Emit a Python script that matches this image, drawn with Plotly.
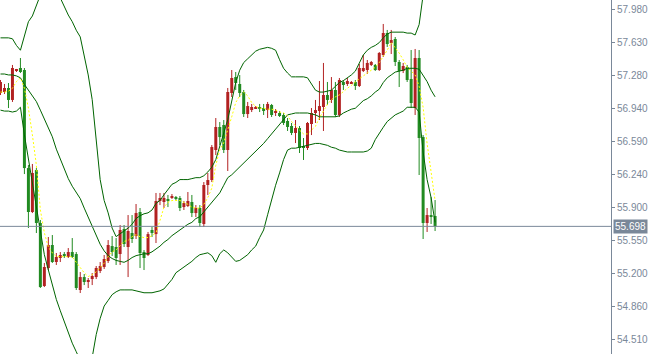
import plotly.graph_objects as go

opens = [57.100,57.111,57.153,57.027,57.332,57.363,57.342,56.311,55.849,56.290,
55.733,55.071,55.260,55.502,55.323,55.365,55.407,55.376,55.428,55.407,
55.029,55.165,55.113,55.144,55.165,55.229,55.271,55.334,55.491,55.481,
55.407,55.670,55.481,55.628,55.596,55.849,55.428,55.397,55.660,55.617,
55.965,55.954,55.986,55.996,55.996,55.996,55.901,55.912,55.954,55.838,
55.891,55.723,56.133,56.185,56.501,56.743,56.764,56.501,57.100,57.268,
57.195,57.111,56.879,56.921,56.942,56.953,56.942,56.921,56.974,56.890,
56.890,56.869,56.806,56.753,56.680,56.732,56.532,56.522,56.774,56.890,
56.911,56.953,57.079,57.027,57.132,56.869,57.216,57.195,57.205,57.216,
57.174,57.332,57.342,57.395,57.395,57.342,57.500,57.731,57.626,57.668,
57.426,57.332,57.374,57.247,56.942,57.468,56.637,55.733,55.817,55.807]

highs = [57.237,57.195,57.205,57.395,57.353,57.468,57.363,56.343,56.354,56.311,
55.765,55.313,55.586,55.607,55.418,55.428,55.428,55.470,55.575,55.428,
55.218,55.197,55.155,55.207,55.281,55.323,55.397,55.554,55.596,55.575,
55.712,55.712,55.817,55.817,55.933,55.891,55.449,55.639,55.691,56.049,
56.049,56.049,56.028,56.038,56.017,56.017,55.965,56.059,56.028,55.922,
55.922,56.164,56.259,56.553,56.837,56.795,56.816,57.153,57.342,57.321,
57.289,57.132,57.006,56.985,56.963,56.985,56.985,57.006,56.985,56.932,
56.911,56.890,56.837,56.785,56.816,56.753,56.627,56.795,56.942,57.027,
57.226,57.416,57.216,57.268,57.216,57.258,57.237,57.258,57.226,57.237,
57.405,57.500,57.447,57.437,57.405,57.531,57.826,57.763,57.763,57.689,
57.447,57.416,57.395,57.552,57.563,57.552,56.658,55.891,56.007,55.975]

lows = [57.079,57.090,56.942,57.006,57.321,57.310,56.248,55.681,55.838,55.628,
55.050,55.060,55.239,55.313,55.292,55.323,55.365,55.365,55.365,55.029,
54.997,55.081,55.050,55.081,55.144,55.207,55.250,55.313,55.386,55.292,
55.292,55.481,55.165,55.523,55.565,55.260,55.239,55.386,55.586,55.523,
55.922,55.891,55.901,55.986,55.975,55.859,55.870,55.901,55.796,55.796,
55.691,55.691,56.028,56.164,56.448,56.553,56.469,56.280,57.058,57.132,
57.058,56.848,56.837,56.900,56.932,56.900,56.869,56.837,56.848,56.858,
56.848,56.764,56.701,56.658,56.574,56.469,56.396,56.501,56.658,56.785,
56.816,56.701,56.974,56.995,56.848,56.848,57.132,57.174,57.195,57.132,
57.163,57.321,57.300,57.384,57.332,57.332,57.479,57.584,57.510,57.384,
57.163,57.310,57.216,56.942,56.869,56.238,55.565,55.639,55.723,55.649]

closes = [57.216,57.153,57.027,57.363,57.342,57.321,56.311,55.849,56.259,55.733,
55.060,55.271,55.502,55.323,55.376,55.397,55.386,55.428,55.376,55.050,
55.165,55.113,55.134,55.176,55.260,55.281,55.355,55.502,55.428,55.365,
55.660,55.512,55.649,55.565,55.838,55.418,55.365,55.617,55.628,55.965,
55.996,55.996,55.975,56.017,55.986,55.891,55.943,55.965,55.838,55.891,
55.733,56.133,56.185,56.532,56.743,56.637,56.501,57.111,57.258,57.205,
57.100,56.879,56.963,56.953,56.953,56.932,56.921,56.985,56.869,56.911,
56.858,56.785,56.743,56.680,56.732,56.522,56.522,56.785,56.890,56.921,
56.963,57.079,57.027,57.132,56.869,57.237,57.184,57.226,57.216,57.174,
57.363,57.363,57.416,57.426,57.342,57.521,57.731,57.615,57.657,57.426,
57.332,57.384,57.237,56.995,57.468,56.627,55.733,55.817,55.796,55.698]

bb_upper = [57.68,57.68,57.68,57.67,57.60,57.55,57.71,57.85,57.91,58.03,
58.13,58.20,58.25,58.24,58.18,58.10,58.00,57.92,57.85,57.76,
57.69,57.50,57.29,57.03,56.61,56.19,55.97,55.84,55.68,55.59,
55.62,55.65,55.68,55.72,55.78,55.81,55.83,55.84,55.87,55.94,
55.97,56.03,56.08,56.14,56.16,56.19,56.19,56.19,56.20,56.21,
56.21,56.23,56.27,56.32,56.40,56.53,56.68,56.82,57.03,57.21,
57.34,57.42,57.46,57.50,57.54,57.56,57.57,57.58,57.57,57.55,
57.45,57.36,57.31,57.27,57.27,57.27,57.27,57.26,57.19,57.13,
57.11,57.11,57.12,57.13,57.17,57.21,57.23,57.26,57.29,57.33,
57.42,57.50,57.55,57.58,57.60,57.63,57.68,57.72,57.74,57.74,
57.74,57.74,57.73,57.73,57.71,57.82,58.13,58.50,58.81,59.08]

bb_middle = [57.30,57.30,57.29,57.29,57.28,57.26,57.19,57.13,57.07,57.01,
56.92,56.83,56.73,56.64,56.51,56.40,56.30,56.20,56.12,56.06,
55.99,55.89,55.79,55.69,55.61,55.51,55.44,55.39,55.36,55.34,
55.33,55.32,55.34,55.37,55.39,55.40,55.41,55.41,55.43,55.46,
55.49,55.53,55.56,55.60,55.63,55.66,55.69,55.72,55.74,55.78,
55.80,55.85,55.90,55.95,56.00,56.05,56.13,56.21,56.24,56.28,
56.32,56.36,56.41,56.45,56.49,56.53,56.57,56.62,56.67,56.73,
56.78,56.83,56.87,56.88,56.89,56.89,56.89,56.89,56.88,56.87,
56.85,56.85,56.85,56.85,56.85,56.86,56.89,56.91,56.93,56.94,
56.98,57.02,57.04,57.07,57.11,57.14,57.21,57.26,57.29,57.32,
57.33,57.34,57.36,57.36,57.36,57.35,57.29,57.22,57.13,57.06]

bb_lower = [56.92,56.91,56.91,56.90,56.91,56.95,56.66,56.40,56.19,55.92,
55.64,55.40,55.24,55.08,54.93,54.81,54.69,54.58,54.47,54.38,
54.29,54.26,54.27,54.32,54.56,54.73,54.86,54.92,54.98,55.01,
55.03,55.03,55.03,55.03,55.02,55.01,55.00,55.00,55.00,55.01,
55.02,55.04,55.09,55.14,55.21,55.24,55.27,55.30,55.33,55.37,
55.40,55.41,55.42,55.39,55.32,55.41,55.45,55.42,55.38,55.33,
55.34,55.37,55.40,55.45,55.49,55.58,55.66,55.82,55.98,56.13,
56.26,56.40,56.50,56.52,56.52,56.53,56.54,56.55,56.56,56.57,
56.57,56.56,56.55,56.53,56.52,56.50,56.49,56.48,56.48,56.48,
56.48,56.48,56.49,56.52,56.61,56.68,56.74,56.80,56.84,56.87,
56.89,56.91,56.95,56.95,56.95,56.90,56.48,56.19,56.00,55.74]

ma_yellow = [57.11,57.11,57.12,57.15,57.22,57.26,57.15,56.94,56.66,56.34,
55.87,55.63,55.48,55.42,55.38,55.38,55.38,55.38,55.38,55.32,
55.26,55.21,55.17,55.19,55.22,55.26,55.31,55.38,55.43,55.45,
55.50,55.54,55.55,55.59,55.61,55.59,55.58,55.58,55.60,55.63,
55.76,55.90,55.95,55.97,55.97,55.97,55.95,55.93,55.90,55.89,
55.89,55.93,56.00,56.10,56.34,56.50,56.58,56.71,56.85,57.00,
57.07,57.11,57.07,57.00,56.96,56.94,56.94,56.93,56.93,56.92,
56.90,56.89,56.86,56.80,56.75,56.71,56.67,56.67,56.71,56.75,
56.84,56.91,56.98,57.03,57.06,57.08,57.12,57.15,57.18,57.22,
57.25,57.28,57.31,57.34,57.37,57.42,57.48,57.55,57.63,57.58,
57.52,57.45,57.37,57.33,57.29,57.17,56.95,56.57,56.26,55.97]

tick_vals = [57.980, 57.633, 57.286, 56.939, 56.592, 56.245, 55.898, 55.551, 55.204, 54.857, 54.510]
tick_text = ["57.980", "57.630", "57.280", "56.940", "56.590", "56.240", "55.900", "55.550", "55.200", "54.860", "54.510"]
last_price = 55.698

BULL = "#B22222"
BEAR = "#228B22"
BAND = "#006400"
AXIS = "#7A8899"

n = len(closes)
idx = list(range(n))
bases, heights, colors = [], [], []
for o, c in zip(opens, closes):
    lo, hi = min(o, c), max(o, c)
    h = hi - lo
    if h < 0.011:
        h = 0.011
    bases.append(lo)
    heights.append(h)
    colors.append(BULL if c >= o else BEAR)

fig = go.Figure()

for col in (BULL, BEAR):
    wx, wy = [], []
    for i in idx:
        if colors[i] == col:
            wx += [i, i, None]
            wy += [lows[i], highs[i], None]
    fig.add_trace(go.Scatter(x=wx, y=wy, mode="lines", line=dict(color=col, width=1),
                             hoverinfo="skip", showlegend=False))

fig.add_trace(go.Bar(x=idx, y=heights, base=bases, width=0.75,
                     marker=dict(color=colors, line=dict(width=0)),
                     hoverinfo="skip", showlegend=False))

for band in (bb_upper, bb_middle, bb_lower):
    fig.add_trace(go.Scatter(x=idx, y=band, mode="lines", line=dict(color=BAND, width=1),
                             hoverinfo="skip", showlegend=False))

fig.add_trace(go.Scatter(x=idx, y=ma_yellow, mode="lines",
                         line=dict(color="#FFFF00", width=1, dash="2px,2px"),
                         hoverinfo="skip", showlegend=False))

fig.add_shape(type="line", xref="paper", x0=0, x1=1, y0=last_price, y1=last_price,
              line=dict(color=AXIS, width=1), layer="above")

fig.add_annotation(xref="paper", x=1, y=last_price, yref="y", text=f"{last_price:.3f}",
                   showarrow=False, xanchor="left", yanchor="middle", xshift=2,
                   bgcolor=AXIS, borderpad=1,
                   font=dict(color="white", size=10, family="Liberation Sans"))

fig.update_layout(
    width=648, height=354,
    margin=dict(l=0, r=35, t=0, b=0),
    paper_bgcolor="white", plot_bgcolor="white",
    showlegend=False,
    xaxis=dict(visible=False, range=[-0.125, 153.125], fixedrange=True),
    yaxis=dict(side="right", range=[54.356, 58.078], showgrid=False, zeroline=False,
               showline=True, linecolor=AXIS, linewidth=1,
               ticks="outside", ticklen=3, tickcolor=AXIS,
               tickvals=tick_vals, ticktext=tick_text,
               tickfont=dict(color=AXIS, size=10, family="Liberation Sans")),
)

fig.write_html("out.html")
